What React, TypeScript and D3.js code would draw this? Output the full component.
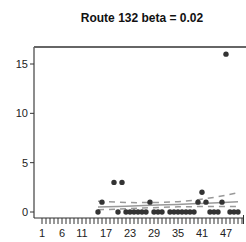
import React from 'react';
import * as d3 from 'd3';

const years = [15, 16, 19, 20, 21, 22, 23, 24, 25, 26, 27, 28, 29, 30, 31, 33, 34, 35, 36, 37, 38, 39, 40, 41, 42, 43, 44, 45, 46, 47, 48, 49, 50];
const counts = [0, 1, 3, 0, 3, 0, 0, 0, 0, 0, 0, 1, 0, 0, 0, 0, 0, 0, 0, 0, 0, 0, 1, 2, 1, 0, 0, 0, 1, 16, 0, 0, 0];

const fitYears = [15, 20, 25, 30, 35, 40, 45, 50];
const fitMean = [0.51, 0.57, 0.63, 0.7, 0.77, 0.85, 0.94, 1.04];
const fitUpper = [1.1, 1.0, 0.95, 0.97, 1.05, 1.25, 1.55, 1.95];
const fitLower = [0.22, 0.3, 0.38, 0.46, 0.52, 0.55, 0.56, 0.55];

const xTickLabels = [1, 6, 11, 17, 23, 29, 35, 41, 47];
const yTicks = [0, 5, 10, 15];
const allYears = d3.range(1, 52);

const W = 246;
const H = 242;

const App: React.FC = () => {
  const x = d3.scaleLinear().domain([1, 51]).range([42, 242]);
  const y = d3.scaleLinear().domain([0, 15]).range([212, 64]);

  const line = (vals: number[]) =>
    d3
      .line<number>()
      .x((_, i) => x(fitYears[i]))
      .y((d) => y(d))
      .curve(d3.curveMonotoneX)(vals) || '';

  const left = 34;
  const top = 47;
  const bottom = 218;

  return (
    <svg width={W} height={H} style={{ position: 'absolute', left: 0, top: 0 }} fontFamily="'Liberation Sans', Arial, sans-serif">
      <rect width={W} height={H} fill="#fff" />
      <text x={142} y={22} textAnchor="middle" fontSize={12} fontWeight="bold" fill="#111">
        Route 132 beta = 0.02
      </text>

      {/* frame */}
      <line x1={left} x2={W} y1={top} y2={top} stroke="#333" strokeWidth={1.5} />
      <line x1={left} x2={left} y1={top} y2={bottom} stroke="#666" strokeWidth={1.5} />
      <line x1={left} x2={243.5} y1={bottom} y2={bottom} stroke="#333" strokeWidth={1.2} />

      {/* y axis */}
      {yTicks.map((t) => (
        <g key={t}>
          <line x1={30} x2={left} y1={y(t)} y2={y(t)} stroke="#333" strokeWidth={1} />
          <text x={28} y={y(t) + 4} textAnchor="end" fontSize={11} fill="#222">
            {t}
          </text>
        </g>
      ))}

      {/* x axis */}
      {allYears.map((t) => (
        <line key={t} x1={x(t)} x2={x(t)} y1={bottom} y2={224} stroke="#333" strokeWidth={1} />
      ))}
      <line x1={243.5} x2={243.5} y1={bottom - 3} y2={224} stroke="#333" strokeWidth={1} />
      {xTickLabels.map((t) => (
        <text key={t} x={x(t)} y={237} textAnchor="middle" fontSize={11} fill="#222">
          {t}
        </text>
      ))}

      {/* fitted lines */}
      <path d={line(fitUpper)} fill="none" stroke="#999" strokeWidth={1.5} strokeDasharray="6,5" />
      <path d={line(fitLower)} fill="none" stroke="#999" strokeWidth={1.5} strokeDasharray="6,5" />
      <path d={line(fitMean)} fill="none" stroke="#999" strokeWidth={1.5} />

      {/* points */}
      {years.map((yr, i) => (
        <circle key={yr} cx={x(yr)} cy={y(counts[i])} r={2.7} fill="#333" />
      ))}
    </svg>
  );
};

export default App;
